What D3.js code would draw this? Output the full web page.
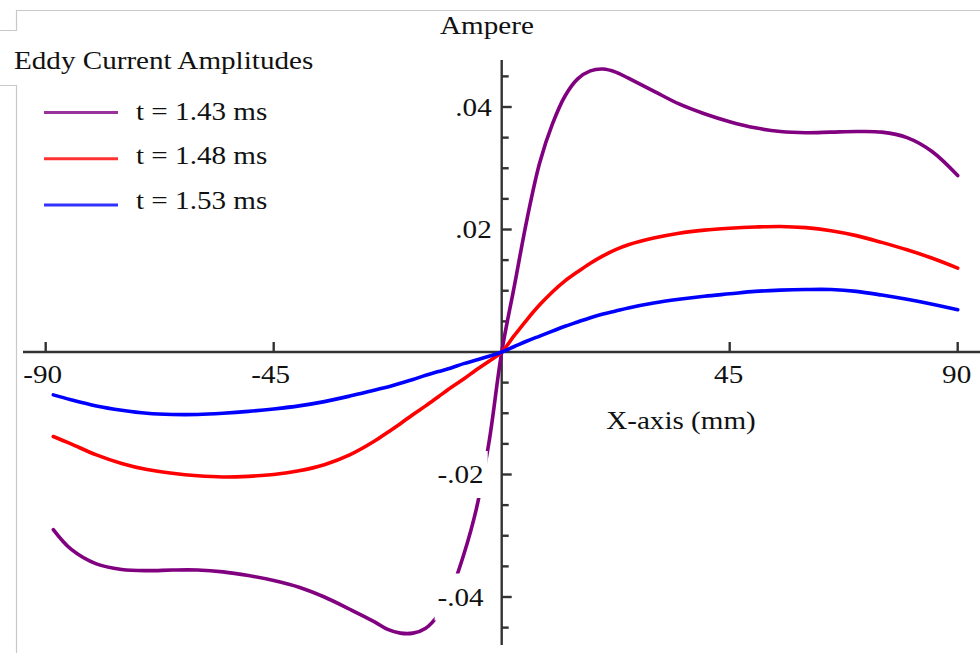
<!DOCTYPE html>
<html>
<head>
<meta charset="utf-8">
<script src="https://cdn.jsdelivr.net/npm/d3@7/dist/d3.min.js"></script>
<style>
  html, body { margin: 0; padding: 0; background: #fff; }
  svg { display: block; }
  text { font-family: "Liberation Serif", "Times New Roman", serif; fill: #111; }
</style>
</head>
<body>
<svg id="chart" width="980" height="653"></svg>
<script>
// Position along the axis (mm)
const xMm = [-88.5, -85, -80, -75, -70, -65, -60, -55, -50, -45, -40, -35, -30, -25,
  -22.5, -20, -17.5, -15, -12.5, -10, -7.5, -5, -2.5, 0, 2.5, 5, 7.5, 10, 12.5, 15,
  17.5, 20, 22.5, 25, 30, 35, 40, 45, 50, 55, 60, 65, 70, 75, 80, 85, 90];

// Eddy current amplitude (A) at each position, one array per time step
const amp143 = [-0.0290, -0.0322, -0.0346, -0.0355, -0.0357, -0.0356, -0.0356, -0.0359, -0.0365, -0.0373,
  -0.0384, -0.0400, -0.0420, -0.0441, -0.0453, -0.0459, -0.0459, -0.0451, -0.0429, -0.0390, -0.0331,
  -0.0256, -0.0147, 0, 0.0108, 0.0217, 0.0309, 0.0372, 0.0418, 0.0446, 0.0459, 0.0462, 0.0457, 0.0447,
  0.0426, 0.0405, 0.0389, 0.0376, 0.0366, 0.0360, 0.0358, 0.0359, 0.0360, 0.0359, 0.0350, 0.0327, 0.0288];

const amp148 = [-0.0138, -0.0150, -0.0168, -0.0182, -0.0192, -0.0198, -0.0202, -0.0204, -0.0203, -0.0200,
  -0.0194, -0.0184, -0.0168, -0.0145, -0.0131, -0.0117, -0.0102, -0.0088, -0.0073, -0.0058, -0.0044,
  -0.0029, -0.0015, 0, 0.0027, 0.0053, 0.0077, 0.0098, 0.0116, 0.0131, 0.0145, 0.0157, 0.0167, 0.0175,
  0.0186, 0.0194, 0.0199, 0.0202, 0.0204, 0.0205, 0.0203, 0.0198, 0.0190, 0.0179, 0.0167, 0.0153, 0.0137];

const amp153 = [-0.0070, -0.0078, -0.0088, -0.0095, -0.0100, -0.0102, -0.0102, -0.0100, -0.0097, -0.0093,
  -0.0088, -0.0081, -0.0072, -0.0062, -0.0057, -0.0051, -0.0045, -0.0038, -0.0032, -0.0026, -0.0019,
  -0.0013, -0.0007, 0, 0.0009, 0.0018, 0.0026, 0.0034, 0.0042, 0.0049, 0.0056, 0.0062, 0.0067, 0.0072,
  0.0080, 0.0086, 0.0091, 0.0095, 0.0099, 0.0101, 0.0102, 0.0102, 0.0099, 0.0093, 0.0086, 0.0078, 0.0069];

const seriesNames = ["t = 1.43 ms", "t = 1.48 ms", "t = 1.53 ms"];
const seriesColors = ["#800080", "#ff0000", "#0000ff"];

const xTicks = [-90, -45, 45, 90];
const xTickLabels = ["-90", "-45", "45", "90"];
const yTicks = [0.04, 0.02, -0.02, -0.04];
const yTickLabels = [".04", ".02", "-.02", "-.04"];
const yMinorTicks = [-0.045, -0.035, -0.03, -0.025, -0.015, -0.01, -0.005,
  0.005, 0.01, 0.015, 0.025, 0.03, 0.035, 0.045];

const titleText = "Eddy Current Amplitudes";
const yTitle = "Ampere";
const xTitle = "X-axis (mm)";

const svg = d3.select("#chart");

// Scales: the axes cross at the origin
const x = d3.scaleLinear().domain([-90, 90]).range([45.7, 957.7]);
const y = d3.scaleLinear().domain([-0.02, 0.02]).range([474.5, 229.5]);
const x0 = x(0), y0 = y(0);

// Light frame lines
const frame = svg.append("g").attr("stroke", "#c8c8c8").attr("stroke-width", 1.2).attr("fill", "none");
frame.append("path").attr("d", "M0,30.5H16.5V10.5H980");
frame.append("path").attr("d", "M0,85.5H16.5V653");

// Axes
const axisColor = "#333";
const axes = svg.append("g").attr("stroke", axisColor).attr("stroke-width", 2.4);
axes.append("line").attr("x1", 23).attr("x2", 980).attr("y1", y0).attr("y2", y0);
axes.append("line").attr("x1", x0).attr("x2", x0).attr("y1", 60).attr("y2", 645);
axes.selectAll(".xt").data(xTicks).join("line")
  .attr("x1", d => x(d)).attr("x2", d => x(d)).attr("y1", y0).attr("y2", y0 - 10);
axes.selectAll(".yt").data(yTicks).join("line")
  .attr("x1", x0).attr("x2", x0 + 10).attr("y1", d => y(d)).attr("y2", d => y(d));
axes.selectAll(".ym").data(yMinorTicks).join("line")
  .attr("x1", x0).attr("x2", x0 + 7).attr("y1", d => y(d)).attr("y2", d => y(d));

// Curves
const seriesData = [amp143, amp148, amp153];
const line = d3.line()
  .x((d, i) => x(xMm[i]))
  .y(d => y(d))
  .curve(d3.curveCatmullRom.alpha(0.5));

svg.append("g").selectAll("path").data(seriesData).join("path")
  .attr("d", d => line(d))
  .attr("fill", "none")
  .attr("stroke", (d, i) => seriesColors[i])
  .attr("stroke-width", 3.6)
  .attr("stroke-linejoin", "round")
  .attr("stroke-linecap", "round");

const allText = [];
const fs = 26;

// Y tick labels sit on white boxes that mask the curves behind them
const yLab = svg.append("g");
yTicks.forEach((v, i) => {
  const rx = v < 0 ? x0 - 18 : x0 - 10;
  const box = yLab.append("rect").attr("fill", "#fff");
  const t = yLab.append("text")
    .attr("x", rx).attr("y", y(v) + 8.5)
    .attr("text-anchor", "end").attr("font-size", fs)
    .text(yTickLabels[i]);
  allText.push(t);
  t.datum({box});
});

// X tick labels
svg.append("g").selectAll("text").data(xTicks).join("text")
  .attr("x", d => x(d) - (d < 0 ? 3 : 1))
  .attr("y", y0 + 31)
  .attr("text-anchor", "middle").attr("font-size", fs)
  .text((d, i) => xTickLabels[i])
  .each(function () { allText.push(d3.select(this)); });

// Axis titles
allText.push(svg.append("text").attr("x", 487).attr("y", 34)
  .attr("text-anchor", "middle").attr("font-size", fs).text(yTitle));
allText.push(svg.append("text").attr("x", 681).attr("y", 429)
  .attr("text-anchor", "middle").attr("font-size", fs).text(xTitle));

// Chart title and legend
allText.push(svg.append("text").attr("x", 14).attr("y", 69)
  .attr("font-size", fs).text(titleText));

const legend = svg.append("g");
seriesNames.forEach((name, i) => {
  const ly = 112.5 + i * 46.2;
  legend.append("line").attr("x1", 44).attr("x2", 118).attr("y1", ly).attr("y2", ly)
    .attr("stroke", seriesColors[i]).attr("stroke-width", 3).attr("opacity", 0.8);
  allText.push(legend.append("text").attr("x", 136).attr("y", 119.5 + i * 44.5)
    .attr("font-size", fs).text(name));
});

// Serif glyphs here run slightly wide; stretch every label horizontally
allText.forEach(t => {
  const n = t.node();
  const w = n.getComputedTextLength();
  t.attr("textLength", w * 1.12).attr("lengthAdjust", "spacingAndGlyphs");
});

// Size the masking boxes from the finished labels
yLab.selectAll("text").each(function (d) {
  const b = this.getBBox();
  d.box.attr("x", b.x - 3).attr("y", b.y - 9).attr("width", b.width + 7).attr("height", b.height + 18);
});
</script>
</body>
</html>
